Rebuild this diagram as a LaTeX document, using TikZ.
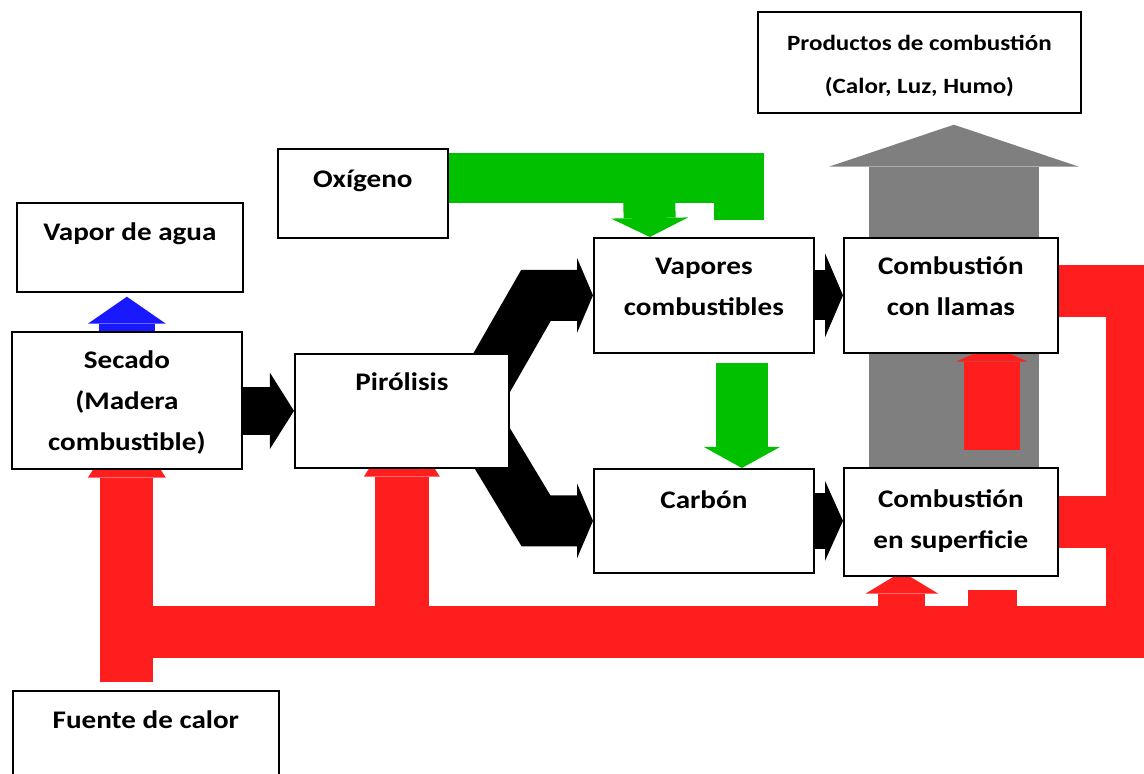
\documentclass[tikz,border=0pt]{standalone}
\usepackage{fontspec}
\setmainfont{Carlito}[FakeStretch=1.15]
\usetikzlibrary{arrows.meta,calc,backgrounds}

\definecolor{rojo}{RGB}{255,30,30}
\definecolor{verde}{RGB}{0,192,0}
\definecolor{azul}{RGB}{25,25,255}
\definecolor{gris}{RGB}{127,127,127}

\newcommand{\lineas}[1]{\begin{tabular}[t]{@{}c@{}}#1\end{tabular}}

\begin{document}
\begin{tikzpicture}[
    x=0.025cm, y=-0.025cm,
    caja/.style={draw, line width=1.2pt, fill=white, anchor=north west, inner sep=0pt},
    rotulo/.style={anchor=base, inner sep=0pt, font=\bfseries\fontsize{18}{29.2}\selectfont},
    gruesa/.style n args={3}{line width=#1, -{Triangle[width=#2, length=#3, line width=0pt]}}
]
    \useasboundingbox (0,0) rectangle (1144,774);

    % cajas
    \node[caja, minimum width=5.65cm, minimum height=2.225cm] (agua) at (16,202) {};
    \node[caja, minimum width=4.25cm, minimum height=2.225cm] (oxigeno) at (277,148) {};
    \node[caja, minimum width=5.75cm, minimum height=3.425cm] (secado) at (11,331) {};
    \node[caja, minimum width=5.35cm, minimum height=2.85cm] (pirolisis) at (294,353) {};
    \node[caja, minimum width=5.5cm, minimum height=2.875cm] (vapores) at (593,237) {};
    \node[caja, minimum width=5.35cm, minimum height=2.875cm] (llamas) at (843,237) {};
    \node[caja, minimum width=5.5cm, minimum height=2.6cm] (carbon) at (593,468) {};
    \node[caja, minimum width=5.35cm, minimum height=2.7cm] (superficie) at (843,467) {};
    \node[caja, minimum width=8.075cm, minimum height=2.525cm] (productos) at (757,11) {};
    \node[caja, minimum width=6.65cm, minimum height=3cm] (fuente) at (12,690) {};

    \node[rotulo] (aguaT) at ([yshift=-0.95cm]agua.north) {Vapor de agua};
    \node[rotulo] (oxigenoT) at ([yshift=-0.975cm]oxigeno.north) {Oxígeno};
    \node[rotulo] (secadoT) at ([yshift=-0.925cm]secado.north) {\lineas{Secado\\(Madera\\combustible)}};
    \node[rotulo] (pirolisisT) at ([yshift=-0.925cm]pirolisis.north) {Pirólisis};
    \node[rotulo] (vaporesT) at ([yshift=-0.925cm]vapores.north) {\lineas{Vapores\\combustibles}};
    \node[rotulo] (llamasT) at ([yshift=-0.925cm]llamas.north) {\lineas{Combustión\\con llamas}};
    \node[rotulo] (carbonT) at ([yshift=-1cm]carbon.north) {Carbón};
    \node[rotulo] (superficieT) at ([yshift=-1cm]superficie.north) {\lineas{Combustión\\en superficie}};
    \node[rotulo, font=\bfseries\fontsize{15.5}{30.6}\selectfont] (productosT) at ([yshift=-0.975cm]productos.north) {\lineas{Productos de combustión\\(Calor, Luz, Humo)}};
    \node[rotulo] (fuenteT) at ([yshift=-0.95cm]fuente.north) {Fuente de calor};

    \coordinate (barra) at (124,632);
    \coordinate (esqA) at (1132,632);
    \coordinate (esqB) at (1132,291);

    \begin{scope}[on background layer]
        % oxigeno
        \draw[verde, line width=1.25cm] ($(oxigeno.north east)+(0,30)$) -- (739,178) -- (739,220);
        \draw[verde, gruesa={1.3cm}{1.925cm}{0.475cm}] (649,178) -- ([xshift=-1.35cm]vapores.north);
        \draw[verde, gruesa={1.3cm}{1.9cm}{0.525cm}, shorten <=0.225cm] ([xshift=0.95cm]vapores.south) -- ([xshift=0.95cm]carbon.north);
        % vapor de agua
        \draw[azul, gruesa={1.4cm}{1.95cm}{0.675cm}, shorten >=0.1cm] (secado.north) -- (secado.north |- agua.south);
        % flujo principal
        \draw[black, gruesa={1.2cm}{1.9cm}{0.6cm}] (secado.east |- pirolisis.west) -- (pirolisis.west);
        \draw[black, gruesa={1.275cm}{1.875cm}{0.4cm}] ([xshift=-1cm]pirolisis.east) -- ($(vapores.west)+(-57,0)$) -- (vapores.west);
        \draw[black, gruesa={1.275cm}{1.875cm}{0.4cm}] ([xshift=-1cm]pirolisis.east) -- ($(carbon.west)+(-57,0)$) -- (carbon.west);
        \draw[black, gruesa={1.25cm}{2.1cm}{0.45cm}] (vapores.east) -- (llamas.west);
        \draw[black, gruesa={1.4cm}{2cm}{0.45cm}] (carbon.east) -- (carbon.east -| superficie.west);
        % productos
        \draw[gris, gruesa={4.25cm}{6.25cm}{1.05cm}, shorten >=0.275cm] ([xshift=0.075cm]superficie.north) -- ([xshift=0.075cm]superficie.north |- productos.south);
        % calor
        \draw[rojo, line width=1.3cm] (barra) -- (esqA) -- (esqB) -- ($(esqB -| llamas.east)+(-10,0)$);
        \draw[rojo, line width=1.3cm] (superficie.east -| esqA) -- ($(superficie.east)+(-10,0)$);
        \draw[rojo, gruesa={1.325cm}{1.95cm}{1.5cm}, shorten <=0.2cm, shorten >=-1.3cm] (secado.south |- fuente.north) -- (secado.south);
        \draw[rojo, gruesa={1.35cm}{1.9cm}{1.5cm}, shorten >=-1.3cm] (barra -| pirolisis.south) -- (pirolisis.south);
        \draw[rojo, gruesa={1.175cm}{1.825cm}{0.55cm}, shorten >=-0.125cm] ([xshift=-1.225cm]barra -| superficie.south) -- ([xshift=-1.225cm]superficie.south);
        \fill[rojo] (968,590) rectangle (1017,632);
        \draw[rojo, gruesa={1.4cm}{1.8cm}{0.4cm}, shorten <=0.425cm, shorten >=-0.2cm] ([xshift=1.025cm]superficie.north) -- ([xshift=1.025cm]llamas.south);
    \end{scope}
\end{tikzpicture}
\end{document}
